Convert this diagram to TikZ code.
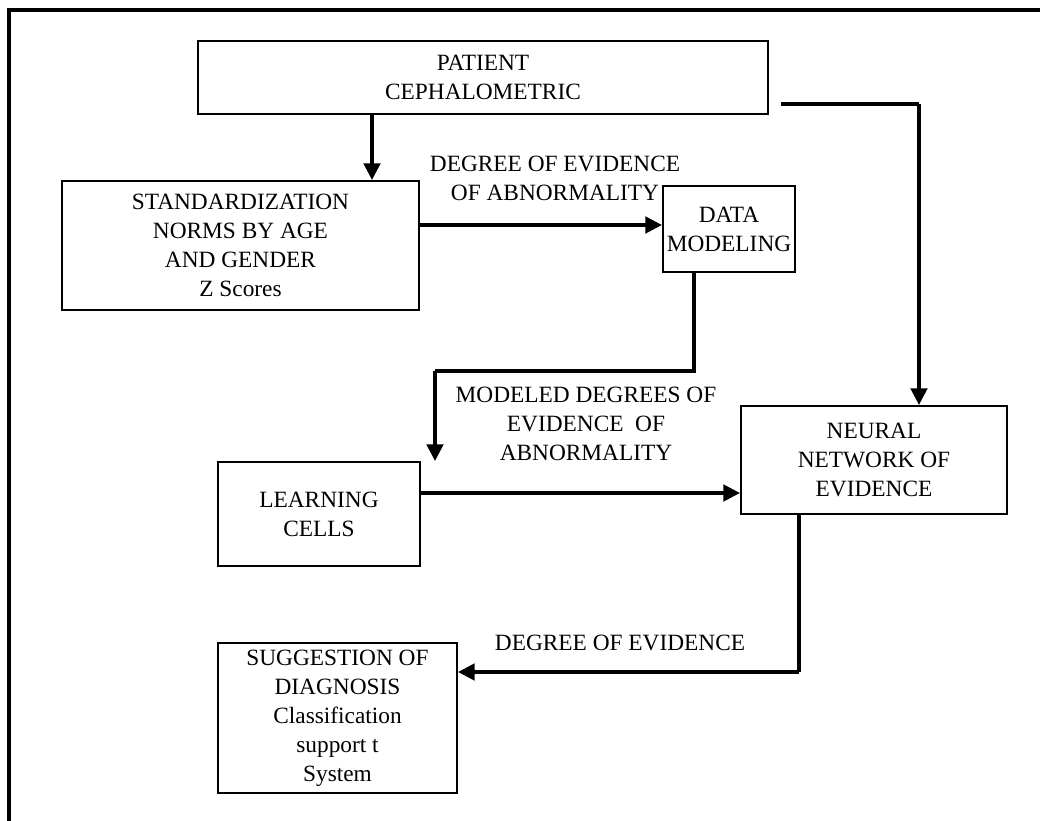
\documentclass[tikz,border=0pt]{standalone}
\usepackage{fontspec}
\setmainfont{Liberation Serif}
\usetikzlibrary{arrows.meta,calc}
\begin{document}
\begin{tikzpicture}[x=0.75pt,y=-0.75pt,
  box/.style={draw,line width=1.6pt,align=center,inner sep=0pt,
    font=\fontsize{17.5}{21.75}\selectfont},
  lbl/.style={align=center,inner sep=0pt,font=\fontsize{17.5}{21.75}\selectfont},
  arr/.style={line width=2.3pt,-{Triangle[length=12.5pt,width=12.5pt]}},
  ln/.style={line width=2.3pt}]
\useasboundingbox (0,0) rectangle (1040,821);
% outer frame (top and left edges visible)
\draw[line width=2.3pt] (9,821) -- (9,10) -- (1040,10);
% boxes
\node[box,minimum width=570*0.75pt,minimum height=73*0.75pt] (P) at (483,77.5) {PATIENT\\CEPHALOMETRIC};
\node[box,minimum width=357*0.75pt,minimum height=129*0.75pt] (S) at (240.5,245.5) {STANDARDIZATION\\NORMS BY AGE\\AND GENDER\\Z Scores};
\node[box,minimum width=132*0.75pt,minimum height=86*0.75pt] (D) at (729,229) {DATA\\MODELING};
\node[box,minimum width=202*0.75pt,minimum height=104*0.75pt] (L) at (319,514) {LEARNING\\CELLS};
\node[box,minimum width=266*0.75pt,minimum height=108*0.75pt] (N) at (874,460) {NEURAL\\NETWORK OF\\EVIDENCE};
\node[box,minimum width=239*0.75pt,minimum height=150*0.75pt] (G) at (337.5,718) {SUGGESTION OF\\DIAGNOSIS\\Classification\\support t\\System};
% labels
\node[lbl] (l1) at (555,178) {DEGREE OF EVIDENCE\\OF ABNORMALITY};
\node[lbl] (l2) at (586,424) {MODELED DEGREES OF\\EVIDENCE\ \ OF\\ABNORMALITY};
\node[lbl] (l3) at (620,643) {DEGREE OF EVIDENCE};
% connectors
\coordinate (c1) at (694,371);
\coordinate (c2) at (435,371);
\coordinate (c3) at (919,104);
\coordinate (c4) at (799,672);
\draw[arr] (P.south -| 372,0) -- (S.north -| 372,0);
\draw[arr] (S.east |- 0,225) -- (D.west |- 0,225);
\draw[ln] (D.south -| c1) -- (c1) -- (c2);
\draw[arr] (c2) -- (L.north -| c2);
\draw[ln,shorten <=9pt] (P.east |- c3) -- (c3);
\draw[arr] (c3) -- (N.north -| c3);
\draw[arr] (L.east |- 0,493) -- (N.west |- 0,493);
\draw[ln] (N.south -| c4) -- (c4);
\draw[arr] (c4) -- (G.east |- c4);
\end{tikzpicture}
\end{document}
